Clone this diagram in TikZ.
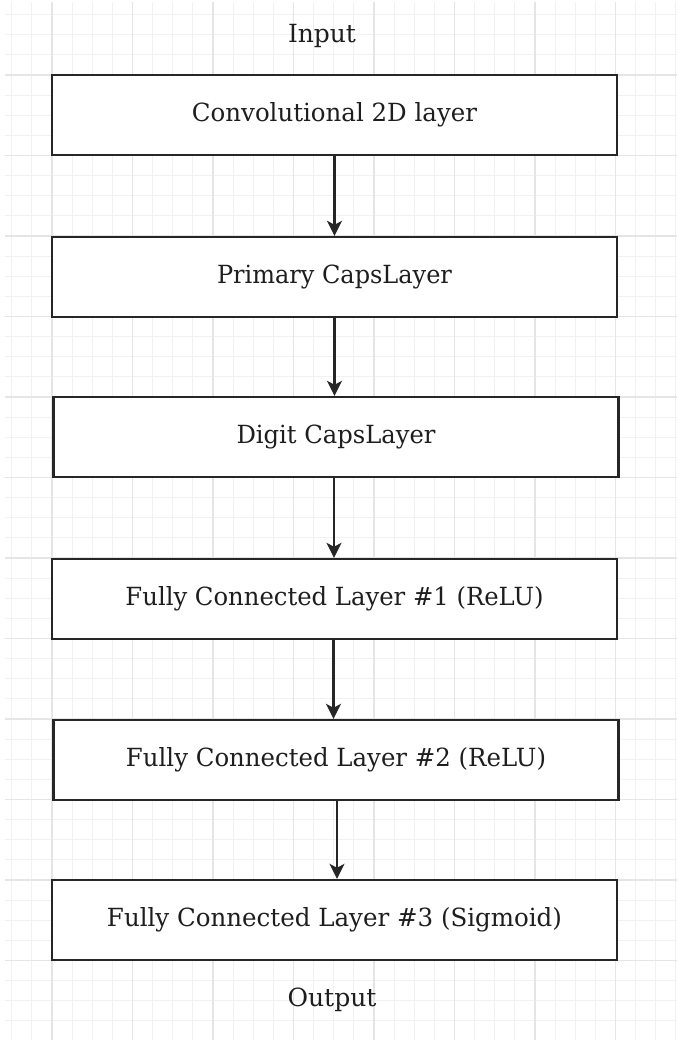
\documentclass[tikz,border=0pt]{standalone}
\usepackage{fontspec}
\usepackage{graphicx}
\setmainfont{DejaVu Serif}
\usetikzlibrary{arrows.meta}
\definecolor{gridminor}{HTML}{F1F1F1}
\definecolor{gridmajor}{HTML}{E5E5E5}
\definecolor{ink}{HTML}{262626}
\definecolor{textink}{HTML}{1E1E1E}
\tikzset{
  minorline/.style={gridminor, line width=0.9pt},
  majorline/.style={gridmajor, line width=1.1pt},
  layerbox/.style={draw=ink, fill=white, line width=2.4pt, minimum width=565pt, minimum height=80pt, inner sep=0pt, text=textink},
  plainlabel/.style={inner sep=0pt, text=textink},
  flow/.style={draw=ink, line width=2.2pt, -{Stealth[length=15pt,width=15pt,inset=4pt]}}
}
\newcommand{\lbl}[2]{\fontsize{25}{30}\selectfont\resizebox{#1pt}{\height}{#2}}
\begin{document}
\begin{tikzpicture}[x=1pt,y=-1pt]
\useasboundingbox (0,0) rectangle (677,1040);
\fill[white] (0,0) rectangle (677,1040);
\begin{scope}
  \clip (5,3) rectangle (677,1040);
  \foreach \i in {-3,...,32} \draw[minorline] ({52+20.125*\i},0) -- ({52+20.125*\i},1040);
  \foreach \i in {-4,...,50} \draw[minorline] (0,{75+20.125*\i}) -- (677,{75+20.125*\i});
  \foreach \i in {-1,...,8} \draw[majorline] ({52+80.5*\i},0) -- ({52+80.5*\i},1040);
  \foreach \i in {-1,...,12} \draw[majorline] (0,{75+80.5*\i}) -- (677,{75+80.5*\i});
\end{scope}

\node[plainlabel] (in) at (322,36) {\lbl{68}{Input}};
\node[layerbox] (b1) at (334.5,115) {\lbl{285}{Convolutional 2D layer}};
\node[layerbox] (b2) at (334.5,277) {\lbl{235}{Primary CapsLayer}};
\node[layerbox] (b3) at (336,437) {\lbl{199}{Digit CapsLayer}};
\node[layerbox] (b4) at (334.5,599) {\lbl{418}{Fully Connected Layer \#1 (ReLU)}};
\node[layerbox] (b5) at (336,760) {\lbl{420}{Fully Connected Layer \#2 (ReLU)}};
\node[layerbox] (b6) at (334.5,920) {\lbl{455}{Fully Connected Layer \#3 (Sigmoid)}};
\node[plainlabel] (out) at (332,1000) {\lbl{89}{Output}};

\draw[flow] (b1.south) -- (b1.south |- b2.north);
\draw[flow] (b2.south) -- (b2.south |- b3.north);
\draw[flow] ([xshift=-2pt]b3.south) -- ([xshift=-2pt]b3.south |- b4.north);
\draw[flow] ([xshift=-1pt]b4.south) -- ([xshift=-1pt]b4.south |- b5.north);
\draw[flow] ([xshift=1pt]b5.south) -- ([xshift=1pt]b5.south |- b6.north);
\end{tikzpicture}
\end{document}
